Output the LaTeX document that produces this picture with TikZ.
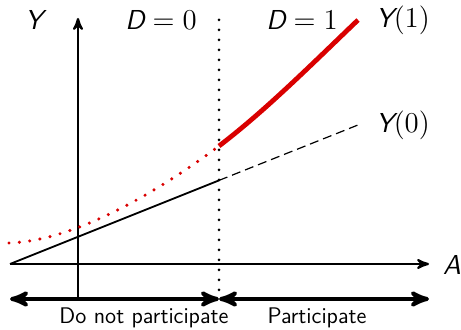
\documentclass[tikz,border=0pt]{standalone}
\usepackage{amsmath}
\usepackage{tikz}
\usetikzlibrary{arrows,calc}
\renewcommand{\familydefault}{\sfdefault}
\newcommand{\sv}[1]{\mbox{\itshape #1}}

\tikzset{
  axis/.style={->,line width=1.1pt},
  span/.style={<->,line width=2pt},
  lbl/.style={font=\fontsize{13.7}{16}\selectfont},
  txt/.style={font=\fontsize{11.3}{13}\selectfont},
  reddots/.style={red!85!black,line width=1.7pt,dash pattern=on 0pt off 5.2pt,line cap=round},
  blackdots/.style={line width=1.5pt,dash pattern=on 0pt off 5pt,line cap=round},
}

\begin{document}
\begin{tikzpicture}[x=0.5pt,y=-0.5pt,>=stealth']
  \useasboundingbox (0,0) rectangle (461,330);

  % axes
  \coordinate (a0) at (10,264);
  \coordinate (a1) at (429,264);
  \coordinate (y0) at (78,298);
  \coordinate (y1) at (78,18);
  \draw[axis] (a0) -- (a1);
  \draw[axis] (y0) -- (y1);
  \node[lbl] (A) at (452,265) {$\sv{A}$};
  \node[lbl] (Y) at (34,20) {$\sv{Y}$};

  % cutoff
  \coordinate (c0) at (219,20);
  \coordinate (c1) at (219,298);
  \draw[blackdots] (c0) -- (c1);
  \node[lbl] (d0) at (161,20) {$\sv{D}=0$};
  \node[lbl] (d1) at (302,20) {$\sv{D}=1$};

  % Y(0)
  \coordinate (k) at (219,180.4);
  \coordinate (e0) at (358,125);
  \draw[line width=0.9pt] (a0) -- (k);
  \draw[line width=0.6pt,dash pattern=on 4.5pt off 2.5pt] (k) -- (e0);
  \node[lbl,right] (l0) at (369,125) {$\sv{Y}(0)$};

  % Y(1)
  \coordinate (s) at (9,243);
  \coordinate (m) at (219,146);
  \coordinate (e1) at (358,20);
  \draw[reddots] (s) .. controls (80,241) and (170,183) .. (m);
  \draw[red!85!black,line width=2.4pt] (m) .. controls (265,111) and (312,64) .. (e1);
  \node[lbl,right] (l1) at (369,20) {$\sv{Y}(1)$};

  % participation
  \coordinate (p0) at (10,299);
  \coordinate (p1) at (429,299);
  \coordinate (pc) at (219,299);
  \draw[span] (p0) -- (pc);
  \draw[span] (pc) -- (p1);
  \node[txt] (no) at (144,318) {Do not participate};
  \node[txt] (yes) at (317,318) {Participate};
\end{tikzpicture}
\end{document}
